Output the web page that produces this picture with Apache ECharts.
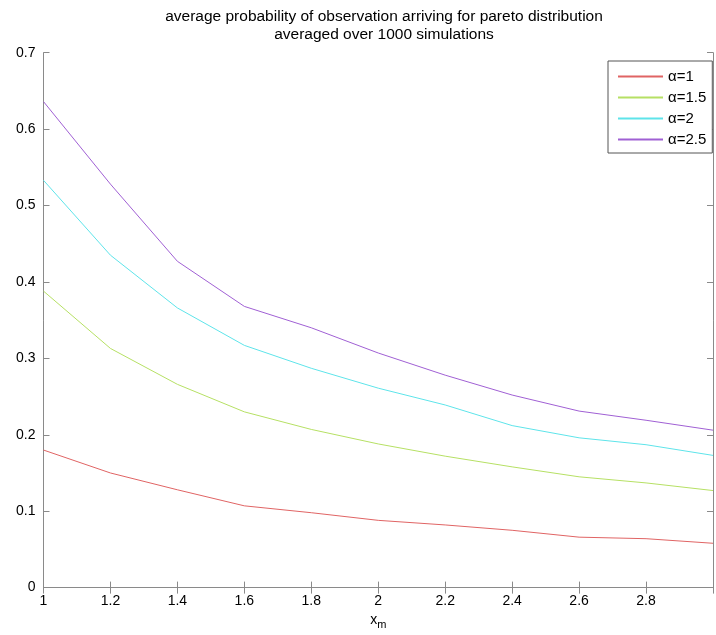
<!DOCTYPE html>
<html>
<head>
<meta charset="utf-8">
<script src="https://cdn.jsdelivr.net/npm/echarts@6/dist/echarts.min.js"></script>
<style>html,body{margin:0;padding:0;background:#fff;}#c{width:716px;height:635px;}</style>
</head>
<body>
<div id="c"></div>
<script>
var xValues = [1, 1.2, 1.4, 1.6, 1.8, 2.0, 2.2, 2.4, 2.6, 2.8, 3.0];
var alpha1   = [0.180, 0.150, 0.128, 0.107, 0.098, 0.088, 0.082, 0.075, 0.066, 0.064, 0.058];
var alpha15  = [0.388, 0.313, 0.266, 0.230, 0.207, 0.188, 0.172, 0.158, 0.145, 0.137, 0.127];
var alpha2   = [0.533, 0.435, 0.366, 0.317, 0.287, 0.261, 0.239, 0.212, 0.196, 0.187, 0.173];
var alpha25  = [0.636, 0.528, 0.427, 0.368, 0.340, 0.307, 0.278, 0.252, 0.231, 0.219, 0.206];
var seriesNames = ['\u03b1=1', '\u03b1=1.5', '\u03b1=2', '\u03b1=2.5'];
var seriesColors = ['#e06464', '#b6e064', '#5ee4ea', '#a060d4'];
var titleLines = ['average probability of observation arriving for pareto distribution', 'averaged over 1000 simulations'];

function pairs(ys) { return xValues.map(function (x, i) { return [x, ys[i]]; }); }
var allData = [alpha1, alpha15, alpha2, alpha25];

var chart = echarts.init(document.getElementById('c'), null, {renderer: 'canvas'});
var font = 'Liberation Sans, Arial, sans-serif';
var frameColor = '#8a8a8a';
chart.setOption({
  animation: false,
  backgroundColor: '#fff',
  title: {
    text: titleLines.join('\n'),
    left: 379, top: 3, textAlign: 'center',
    textStyle: {fontFamily: font, fontSize: 15.5, fontWeight: 'normal', color: '#000', lineHeight: 18}
  },
  grid: {left: 43.5, top: 52.7, right: 0.5, bottom: 47.3, containLabel: false},
  legend: {
    orient: 'vertical', left: 608, top: 61,
    width: 106,
    backgroundColor: '#fff', borderColor: '#555', borderWidth: 1,
    padding: [8, 6, 6, 9],
    itemWidth: 45, itemHeight: 14, itemGap: 6,
    itemStyle: {opacity: 0},
    textStyle: {fontFamily: font, fontSize: 15, color: '#000'},
    data: seriesNames
  },
  xAxis: [{
    type: 'value', min: 1, max: 3, interval: 0.2,
    name: '{a|x}{b|m}', nameLocation: 'middle', nameGap: 20,
    nameTextStyle: {rich: {a: {fontFamily: font, fontSize: 14, color: '#000'}, b: {fontFamily: font, fontSize: 11, color: '#000', verticalAlign: 'bottom', padding: [8, 0, 0, 0]}}},
    axisLine: {show: true, lineStyle: {color: frameColor, width: 1}},
    axisTick: {show: true, inside: true, length: 6, lineStyle: {color: frameColor}},
    axisLabel: {show: true, color: '#000', fontFamily: font, fontSize: 14, margin: 7,
      formatter: function (v) { return Math.abs(v - 3) < 1e-6 ? '' : String(Math.round(v * 10) / 10); }},
    splitLine: {show: false}
  }, {
    type: 'value', min: 1, max: 3, interval: 0.2, position: 'top',
    axisLine: {show: true, lineStyle: {color: frameColor, width: 1}},
    axisTick: {show: true, inside: true, length: 6, lineStyle: {color: frameColor}},
    axisLabel: {show: false}, splitLine: {show: false}
  }],
  yAxis: [{
    type: 'value', min: 0, max: 0.7, interval: 0.1,
    axisLine: {show: true, lineStyle: {color: frameColor, width: 1}},
    axisTick: {show: true, inside: true, length: 6, lineStyle: {color: frameColor}},
    axisLabel: {show: true, color: '#000', fontFamily: font, fontSize: 14, margin: 8,
      formatter: function (v) { return v === 0 ? '0' : String(Math.round(v * 10) / 10); }},
    splitLine: {show: false}
  }, {
    type: 'value', min: 0, max: 0.7, interval: 0.1, position: 'right',
    axisLine: {show: true, lineStyle: {color: frameColor, width: 1}},
    axisTick: {show: true, inside: true, length: 6, lineStyle: {color: frameColor}},
    axisLabel: {show: false}, splitLine: {show: false}
  }],
  series: allData.map(function (d, i) {
    return {
      name: seriesNames[i], type: 'line', xAxisIndex: 0, yAxisIndex: 0,
      data: pairs(d), symbol: 'none', showSymbol: false,
      lineStyle: {color: seriesColors[i], width: 1}, itemStyle: {color: seriesColors[i]},
      z: 2
    };
  })
});
</script>
</body>
</html>
